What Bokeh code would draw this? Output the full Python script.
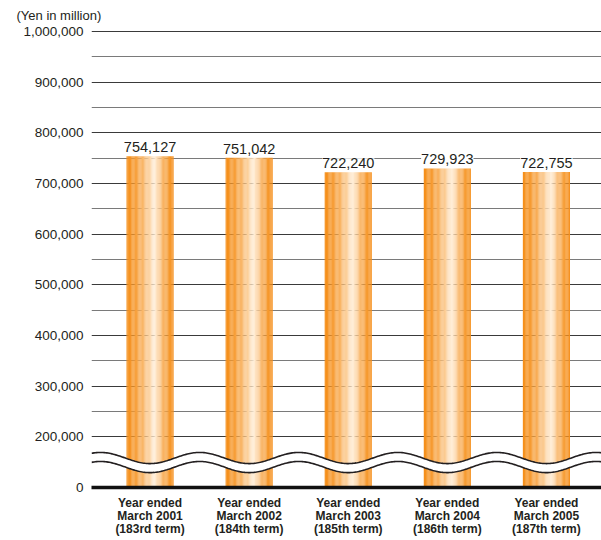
import numpy as np
from bokeh.plotting import figure
from bokeh.models import FixedTicker, ColumnDataSource, LabelSet, Range1d
from bokeh.core.properties import value
from bokeh.embed import file_html
from bokeh.resources import INLINE

# ---- data ----
categories = [
    "Year ended\nMarch 2001\n(183rd term)",
    "Year ended\nMarch 2002\n(184th term)",
    "Year ended\nMarch 2003\n(185th term)",
    "Year ended\nMarch 2004\n(186th term)",
    "Year ended\nMarch 2005\n(187th term)",
]
values = [754127, 751042, 722240, 729923, 722755]
value_labels = ["754,127", "751,042", "722,240", "729,923", "722,755"]
y_tick_values = [0, 200000, 300000, 400000, 500000, 600000, 700000, 800000, 900000, 1000000]
y_tick_labels = ["0", "200,000", "300,000", "400,000", "500,000", "600,000",
                 "700,000", "800,000", "900,000", "1,000,000"]
unit_label = "(Yen in million)"

FONT = "Liberation Sans"
TXT = "#231F20"

# broken axis: 0..200,000 compressed into half a step
def to_display(v):
    v = np.asarray(v, dtype=float)
    return np.where(v >= 200000, v, 100000 + v / 2.0)

xs_idx = np.arange(len(categories))
X0, X1 = -0.591, 4.556
Y0, Y1 = 100000, 1012000

p = figure(width=601, height=540, output_backend="svg", toolbar_location=None,
           x_range=Range1d(X0, X1), y_range=Range1d(Y0, Y1),
           min_border_left=91, min_border_right=0, min_border_top=25, min_border_bottom=53)
p.outline_line_color = None
p.background_fill_color = "white"
p.border_fill_color = "white"

# unit title, top-left
p.title.text = unit_label
p.title.align = "left"
p.title.offset = -75
p.title.standoff = 5
p.title.text_font = FONT
p.title.text_font_style = "normal"
p.title.text_font_size = "13px"
p.title.text_color = TXT

# grid
p.xgrid.visible = False
major_grid = [float(t) for t in to_display(y_tick_values) if t > 100000]
minor_grid = [m + 50000 for m in major_grid[:-1]]
p.ygrid.ticker = FixedTicker(ticks=major_grid, minor_ticks=minor_grid)
p.ygrid.grid_line_color = "#3a3a3a"
p.ygrid.grid_line_width = 1
p.ygrid.minor_grid_line_color = "#7a7a7a"
p.ygrid.minor_grid_line_width = 1.2

# y axis
disp_ticks = [float(t) for t in to_display(y_tick_values)]
p.yaxis.ticker = FixedTicker(ticks=disp_ticks)
p.yaxis.major_label_overrides = {t: l for t, l in zip(disp_ticks, y_tick_labels)}
p.yaxis.axis_line_color = None
p.yaxis.major_tick_line_color = None
p.yaxis.minor_tick_line_color = None
p.yaxis.major_tick_out = 0
p.yaxis.major_tick_in = 0
p.yaxis.major_label_standoff = 8
p.yaxis.major_label_text_font = FONT
p.yaxis.major_label_text_font_size = "13.5px"
p.yaxis.major_label_text_color = TXT

# x axis
p.xaxis.ticker = FixedTicker(ticks=list(xs_idx))
p.xaxis.major_label_overrides = {int(i): c for i, c in zip(xs_idx, categories)}
p.xaxis.axis_line_color = "#111111"
p.xaxis.axis_line_width = 3.5
p.xaxis.major_tick_line_color = None
p.xaxis.minor_tick_line_color = None
p.xaxis.major_tick_out = 0
p.xaxis.major_tick_in = 0
p.xaxis.major_label_standoff = 8
p.xaxis.major_label_text_font = FONT
p.xaxis.major_label_text_font_style = "bold"
p.xaxis.major_label_text_font_size = "12px"
p.xaxis.major_label_text_color = TXT
p.xaxis.major_label_text_line_height = 0.95

# gradient bars made of thin strips
bar_w = 0.475
n_strips = 40
orange = np.array([245, 143, 26])
light = np.array([255, 240, 220])
sx, stop, sbot, scol = [], [], [], []
bottom0 = float(to_display(0))
for i, v in zip(xs_idx, values):
    top = float(to_display(v))
    for k in range(n_strips):
        t = (k + 0.5) / n_strips
        f = t / 0.6 if t < 0.6 else (1 - t) / 0.4
        f = np.clip(f, 0, 1) ** 1.6
        c = orange + (light - orange) * f
        sx.append(i - bar_w / 2 + bar_w * t)
        stop.append(top)
        sbot.append(bottom0)
        scol.append("#%02x%02x%02x" % tuple(int(round(x)) for x in c))
p.vbar(x=sx, top=stop, bottom=sbot, width=bar_w / n_strips * 1.05,
       fill_color=scol, line_color=None)

# wavy break band
wx = np.linspace(X0, X1, 400)
amp = 11000
upper = 158200 - amp * np.cos(2 * np.pi * wx)
lower = 140400 - amp * np.cos(2 * np.pi * wx)
p.varea(x=wx, y1=lower, y2=upper, fill_color="white")
p.line(wx, upper, line_color=TXT, line_width=1.6)
p.line(wx, lower, line_color=TXT, line_width=1.6)

# value labels
src = ColumnDataSource(dict(x=list(xs_idx), y=[float(t) for t in to_display(values)], t=value_labels))
p.add_layout(LabelSet(x="x", y="y", text="t", source=src, y_offset=4,
                      text_align="center", text_baseline="alphabetic",
                      text_font=value(FONT), text_font_size=value("14.5px"), text_color=TXT,
                      background_fill_color="white"))

open("out.html", "w").write(file_html(p, INLINE))
